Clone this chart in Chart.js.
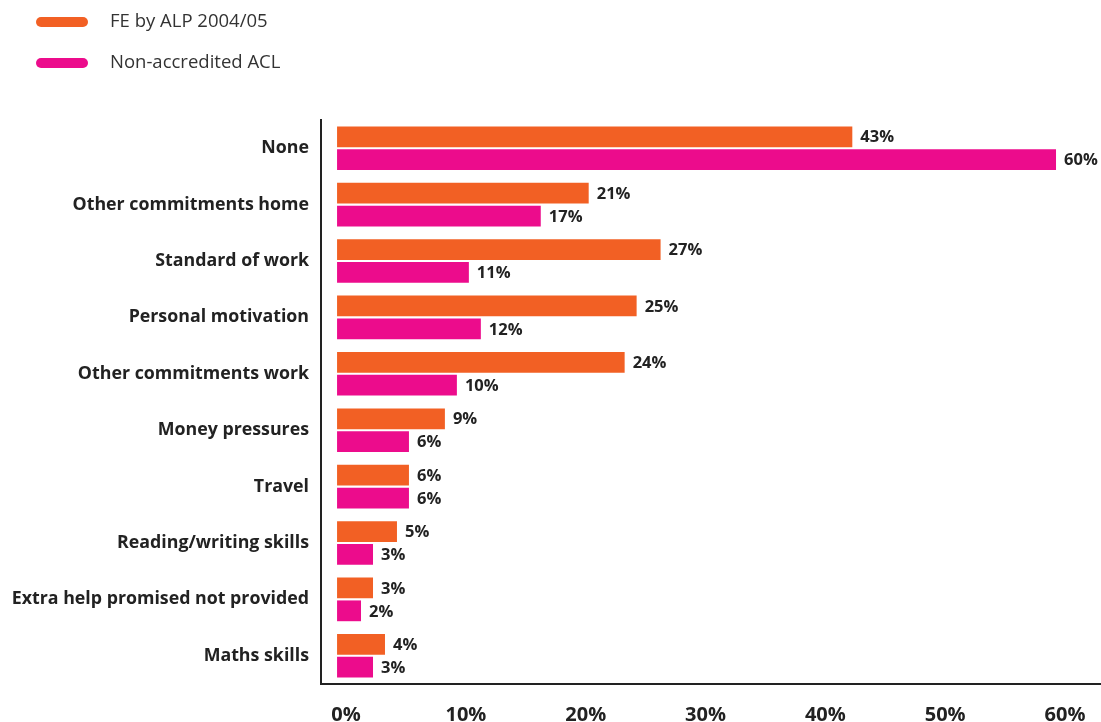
<!DOCTYPE html>
<html>
<head>
<meta charset="utf-8">
<title>Barriers to learning</title>
<script src="https://cdn.jsdelivr.net/npm/chart.js@4.4.1/dist/chart.umd.min.js"></script>
<style>
  html, body { margin: 0; padding: 0; background: #fff; }
  #wrap { width: 1101px; height: 722px; position: relative; }
</style>
</head>
<body>
<div id="wrap"><canvas id="barriersChart"></canvas></div>
<script>
const categories = [
  "None",
  "Other commitments home",
  "Standard of work",
  "Personal motivation",
  "Other commitments work",
  "Money pressures",
  "Travel",
  "Reading/writing skills",
  "Extra help promised not provided",
  "Maths skills",
];
const feValues = [43, 21, 27, 25, 24, 9, 6, 5, 3, 4];
const aclValues = [60, 17, 11, 12, 10, 6, 6, 3, 2, 3];
const seriesNames = ["FE by ALP 2004/05", "Non-accredited ACL"];
const seriesColors = ["#f26024", "#ec0c8c"];
const tickValues = [0, 10, 20, 30, 40, 50, 60];

const FONT = "'Open Sans', 'Noto Sans', sans-serif";
const INK = "#222";

// value labels at the end of each bar
const barLabels = {
  id: "barLabels",
  afterDatasetsDraw(chart) {
    const ctx = chart.ctx;
    ctx.save();
    ctx.font = "bold 16.5px " + FONT;
    ctx.fillStyle = INK;
    ctx.textAlign = "left";
    ctx.textBaseline = "middle";
    chart.data.datasets.forEach((ds, i) => {
      chart.getDatasetMeta(i).data.forEach((bar, j) => {
        ctx.fillText(ds.data[j] + "%", bar.x + 8, bar.y + 1);
      });
    });
    ctx.restore();
  },
};

// legend with rounded bars, stacked top left
const pillLegend = {
  id: "pillLegend",
  afterDraw(chart) {
    const ctx = chart.ctx;
    ctx.save();
    ctx.font = "18.5px " + FONT;
    ctx.textBaseline = "middle";
    seriesNames.forEach((name, i) => {
      const y = 22 + i * 41;
      ctx.strokeStyle = seriesColors[i];
      ctx.lineWidth = 10;
      ctx.lineCap = "round";
      ctx.beginPath();
      ctx.moveTo(41, y);
      ctx.lineTo(83, y);
      ctx.stroke();
      ctx.fillStyle = "#333";
      ctx.fillText(name, 110, y);
    });
    ctx.restore();
  },
};

const ctx = document.getElementById("barriersChart").getContext("2d");
window.barriersChart = new Chart(ctx, {
  type: "bar",
  data: {
    labels: categories,
    datasets: [
      {
        label: seriesNames[0],
        data: feValues,
        backgroundColor: seriesColors[0],
        categoryPercentage: 0.81,
        barPercentage: 0.91,
      },
      {
        label: seriesNames[1],
        data: aclValues,
        backgroundColor: seriesColors[1],
        categoryPercentage: 0.81,
        barPercentage: 0.91,
      },
    ],
  },
  options: {
    indexAxis: "y",
    responsive: true,
    maintainAspectRatio: false,
    animation: false,
    layout: { padding: { top: 120, right: 1, left: 0, bottom: 0 } },
    plugins: {
      legend: { display: false },
      tooltip: { enabled: false },
    },
    scales: {
      x: {
        min: -1.34,
        max: 63.67,
        grid: { display: false, drawTicks: false },
        border: { display: true, color: INK, width: 2 },
        afterBuildTicks: (scale) => {
          scale.ticks = tickValues.map((v) => ({ value: v }));
        },
        afterFit: (scale) => {
          scale.height = 38;
        },
        ticks: {
          padding: 19,
          labelOffset: 9,
          color: INK,
          font: { family: FONT, size: 20, weight: "bold" },
          callback: (v) => v + "%",
        },
      },
      y: {
        grid: { display: false, drawTicks: false },
        border: { display: true, color: INK, width: 2 },
        afterFit: (scale) => {
          scale.width = 321;
        },
        ticks: {
          padding: 12,
          color: INK,
          font: { family: FONT, size: 17.8, weight: "bold" },
        },
      },
    },
  },
  plugins: [barLabels, pillLegend],
});
</script>
</body>
</html>
